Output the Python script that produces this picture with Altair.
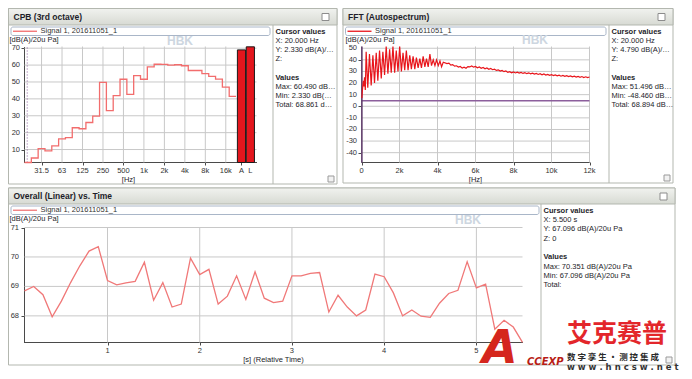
import altair as alt
import pandas as pd

FONT = "Liberation Sans"
CJK = "Noto Sans CJK SC"
TXT = "#1d1d29"
AXC = "#4a4a4a"
GRID = "#c8c8c8"
FRAME = "#b3b7af"
PURPLE = "#8c5f9c"

# ---------------- data ----------------
cpb_bands = ["20", "25", "31.5", "40", "50", "63", "80", "100", "125", "160",
             "200", "250", "315", "400", "500", "630", "800", "1k", "1.25k", "1.6k",
             "2k", "2.5k", "3.15k", "4k", "5k", "6.3k", "8k", "10k", "12.5k", "16k", "20k"]
cpb_levels = [2.33, 5.0, 10.6, 9.2, 12.2, 16.3, 17.1, 22.9, 22.3, 26.0,
              29.8, 49.8, 33.0, 41.9, 51.6, 42.7, 53.8, 51.6, 58.9, 60.49,
              60.4, 60.0, 60.2, 59.6, 56.8, 56.8, 54.9, 53.3, 51.7, 47.0, 41.5]
cpb_tick_bands = ["31.5", "63", "125", "250", "500", "1k", "2k", "4k", "8k", "16k"]
cpb_total_names = ["A", "L"]
cpb_total_levels = [69.0, 70.8]
cpb_yticks = [10, 20, 30, 40, 50, 60, 70]

fft_freq = [20, 40, 70, 100, 130, 160, 200,
            245, 330, 420, 510, 600, 685, 775, 860, 950, 1040, 1125, 1215, 1300, 1390,
            1480, 1565, 1655, 1745, 1830, 1920, 2010, 2100, 2185, 2275, 2360, 2450,
            2540, 2625, 2715, 2805, 2890, 2980, 3070, 3155, 3245, 3335, 3420, 3510,
            3600, 3685, 3775, 3865, 3950, 4040, 4130, 4215, 4305,
            4500, 4600, 4700, 4800, 4900, 5000, 5100, 5200, 5300, 5400, 5500, 5600,
            5700, 5800, 5900, 6000, 6100, 6200, 6300, 6400, 6500, 6600, 6700, 6800,
            6900, 7000, 7100, 7200, 7300, 7400, 7500, 7600, 7700, 7800, 7900, 8000,
            8100, 8200, 8300, 8400, 8500, 8600, 8700, 8800, 8900, 9000, 9100, 9200,
            9300, 9400, 9500, 9600, 9700, 9800, 9900, 10000, 10100, 10200, 10300,
            10400, 10500, 10600, 10700, 10800, 10900, 11000, 11100, 11200, 11300,
            11400, 11500, 11600, 11700, 11800, 11900, 12000]
fft_level = [7, 12, 18, 22, 17, 25, 14,
             47, 16, 45, 18, 44, 20, 46, 22, 48, 24, 47, 27, 51.4, 28,
             49, 29, 51.4, 29, 48, 30, 51.4, 30, 46, 31, 48, 31,
             44, 32, 43, 32, 42, 33, 41, 33, 43, 34, 41, 34,
             45, 35, 40, 35, 40, 35, 39, 34, 38,
             36.8, 37.2, 35.4, 35.9, 34.6, 34.9, 33.8, 34.3, 32.9, 33.6, 32.8, 34.2,
             33.9, 34.8, 33.7, 34.3, 33.1, 33.8, 32.7, 33.4, 32.3, 33.0, 31.9, 32.6,
             31.5, 32.0, 30.9, 31.4, 30.3, 30.9, 29.8, 30.4, 29.2, 29.8, 28.8, 29.5,
             28.7, 29.4, 28.6, 29.2, 28.3, 29.0, 28.1, 28.8, 27.9, 28.5, 27.7, 28.3,
             27.4, 28.0, 27.1, 27.8, 26.9, 27.5, 26.7, 27.3, 26.4, 27.0, 26.2,
             26.8, 25.9, 26.6, 25.8, 26.4, 25.6, 26.2, 25.4, 26.0, 25.2,
             25.8, 25.0, 25.6, 24.8, 25.4, 24.7, 25.2]
fft_xticks = [0, 2000, 4000, 6000, 8000, 10000, 12000]
fft_xlabels = ["0", "2k", "4k", "6k", "8k", "10k", "12k"]
fft_yticks = [-40, -30, -20, -10, 0, 10, 20, 30, 40, 50]

ovr_time = [0.1, 0.2, 0.3, 0.4, 0.5, 0.6, 0.7, 0.8, 0.9, 1.0,
            1.1, 1.2, 1.3, 1.4, 1.5, 1.6, 1.7, 1.8, 1.9, 2.0,
            2.1, 2.2, 2.3, 2.4, 2.5, 2.6, 2.7, 2.8, 2.9, 3.0,
            3.1, 3.2, 3.3, 3.4, 3.5, 3.6, 3.7, 3.8, 3.9, 4.0,
            4.1, 4.2, 4.3, 4.4, 4.5, 4.6, 4.7, 4.8, 4.9, 5.0,
            5.1, 5.2, 5.3, 5.4, 5.5]
ovr_level = [68.85, 69.0, 68.72, 67.97, 68.5, 69.13, 69.7, 70.2, 70.35, 69.2,
             69.05, 69.12, 69.17, 69.82, 68.53, 69.13, 68.3, 68.4, 69.96, 69.4,
             69.58, 68.4, 68.67, 69.36, 68.56, 69.5, 68.6, 68.45, 68.5, 69.36,
             69.36, 69.44, 69.47, 68.13, 68.7, 68.3, 68.0, 68.2, 69.42, 69.33,
             68.78, 68.0, 68.2, 67.99, 67.95, 68.43, 68.76, 68.87, 69.84, 68.95,
             69.08, 67.55, 67.85, 67.62, 67.1]
ovr_xticks = [1, 2, 3, 4, 5]
ovr_yticks = [68, 69, 70, 71]

cpb_cursor = ["Cursor values", "X: 20.000 Hz", "Y: 2.330 dB(A)/20u Pa", "Z:", "Values",
              "Max: 60.490 dB(A)/20u Pa", "Min: 2.330 dB(A)/20u Pa", "Total: 68.861 dB(A)/20u Pa"]
fft_cursor = ["Cursor values", "X: 20.000 Hz", "Y: 4.790 dB(A)/20u Pa", "Z:", "Values",
              "Max: 51.496 dB(A)/20u Pa", "Min: -48.460 dB(A)/20u Pa", "Total: 68.894 dB(A)/20u Pa"]
ovr_cursor = ["Cursor values", "X: 5.500 s", "Y: 67.096 dB(A)/20u Pa", "Z: 0", "Values",
              "Max: 70.351 dB(A)/20u Pa", "Min: 67.096 dB(A)/20u Pa", "Total:"]
legend_text = "Signal 1, 201611051_1"
unit = "[dB(A)/20u Pa]"

# ---------------- layout (pixels, relative to the CPB plot's top-left) ----------------
CPB_W, CPB_H = 232, 116
FX, FFT_W = 337, 228               # FFT plot starts 337 px right of the CPB plot
OY, OVR_W, OVR_H = 181, 498, 115   # overall plot starts 181 px below
H = 0.5                            # half-pixel shift for crisp 1px rules

# ---------------- helpers for the window chrome ----------------
blank = pd.DataFrame({"k": [0]})


def T(s, x, y, size=7.5, bold=False, color=TXT, align="left", font=FONT, baseline="middle", **kw):
    return alt.Chart(blank).mark_text(
        text=s, align=align, baseline=baseline, fontSize=size,
        fontWeight="bold" if bold else "normal", color=color, font=font, **kw
    ).encode(x=alt.value(x), y=alt.value(y))


def R(x, x2, y, y2, fill="transparent", stroke=FRAME, sw=1, cr=0):
    return alt.Chart(blank).mark_rect(
        fill=fill, stroke=stroke, strokeWidth=sw, cornerRadius=cr
    ).encode(x=alt.value(x), x2=alt.value(x2), y=alt.value(y), y2=alt.value(y2))


def L(x, x2, y, y2, color, sw=1):
    return alt.Chart(blank).mark_rule(color=color, strokeWidth=sw).encode(
        x=alt.value(x), x2=alt.value(x2), y=alt.value(y), y2=alt.value(y2))


GRAD = alt.LinearGradient(
    gradient="linear",
    stops=[alt.GradientStop(color="#f1f2ef", offset=0), alt.GradientStop(color="#d7dad3", offset=1)],
    x1=0, x2=0, y1=0, y2=1)


def chrome(fx0, fx1, fy0, fy1, tb1, title, legx1, divx, cur_rows, cur_ys, limit, line_color, hbk):
    layers = [
        R(fx0, fx1, fy0, fy1),
        R(fx0, fx1, fy0, tb1, fill=GRAD),
        T(title, fx0 + 5, (fy0 + tb1) / 2, size=8.5, bold=True),
        R(fx1 - 15, fx1 - 8, fy0 + 5, fy0 + 12, fill="white", stroke="#8c8c8c"),
        R(fx0 + 2.5, legx1, tb1 + 2, tb1 + 10.5, fill="white", stroke="#a9b6c8", cr=2),
        L(fx0 + 4.5, fx0 + 28.5, tb1 + 6.25, tb1 + 6.25, line_color, 1.3),
        T(legend_text, fx0 + 32, tb1 + 6.25, color="#333"),
        L(divx, divx, tb1, fy1, FRAME),
        T("HBK", hbk[0], hbk[1], size=12, bold=True, color="#cdd6e0"),
        R(fx1 - 9, fx1 - 3, fy1 - 8, fy1 - 2, fill="#f2f2f2", stroke="#9a9a9a"),
    ]
    for i, (s, yy) in enumerate(zip(cur_rows, cur_ys)):
        layers.append(T(s, divx + 2.5, yy, bold=(i in (0, 4)), limit=limit, ellipsis=""))
    return layers


COMMON = dict(grid=False, labels=False, tickSize=3, tickColor=AXC, domainColor=AXC,
              titleFont=FONT, titleFontSize=7.5, titleFontWeight="normal", titleColor=TXT)


def yaxis(values, tx, ty, offset=0):
    return alt.Axis(orient="left", values=values, offset=offset, title=unit,
                    titleAngle=0, titleAlign="left", titleBaseline="middle", titleX=tx, titleY=ty,
                    **COMMON)


def xaxis(values, title, tx, ty=17, offset=0):
    return alt.Axis(orient="bottom", values=values, offset=offset, title=title,
                    titleAlign="center", titleBaseline="middle", titleX=tx, titleY=ty, **COMMON)


def tick_text(df, x=None, y=None, align="center"):
    enc = {"text": "lab:N"}
    if x is not None:
        enc["x"] = x
    if y is not None:
        enc["y"] = y
    return alt.Chart(df).mark_text(font=FONT, fontSize=7.5, color="#333", align=align,
                                   baseline="middle").encode(**enc)


# ---------------- CPB (3rd octave) ----------------
n = len(cpb_bands)
cpb_df = pd.DataFrame({"pos": list(range(n)) + [n], "level": cpb_levels + [cpb_levels[-1]]})
bars_df = pd.DataFrame({
    "name": cpb_total_names,
    "level": cpb_total_levels,
    "pos": [n + 0.2 + 1.3 * i for i in range(len(cpb_total_names))],
    "pos_end": [n + 1.4 + 1.3 * i for i in range(len(cpb_total_names))],
})
tick_pos = [cpb_bands.index(b) + 0.5 for b in cpb_tick_bands] + \
           [(a + b) / 2 for a, b in zip(bars_df["pos"], bars_df["pos_end"])]
tick_pos = [round(p, 2) for p in tick_pos]
tick_lab = cpb_tick_bands + cpb_total_names
CPB_X = [0, 34]
CPB_Y = [2.33, 71]

x_cpb = alt.X("pos:Q", scale=alt.Scale(domain=CPB_X, range=[H, CPB_W + H], nice=False, zero=False),
              axis=xaxis(tick_pos, "[Hz]", 104))
y_cpb = alt.Y("level:Q", scale=alt.Scale(domain=CPB_Y, range=[CPB_H + H, H], nice=False, zero=False),
              axis=yaxis(cpb_yticks, -15, -7))

cpb = alt.layer(
    alt.Chart(pd.DataFrame({"pos": tick_pos[:len(cpb_tick_bands)]})).mark_rule(color=GRID).encode(
        x=x_cpb, y=alt.datum(CPB_Y[0]), y2=alt.datum(CPB_Y[1])),
    alt.Chart(pd.DataFrame({"level": cpb_yticks})).mark_rule(color=GRID).encode(
        y=y_cpb, x=alt.datum(CPB_X[0]), x2=alt.datum(CPB_X[1])),
    alt.Chart(pd.DataFrame({"pos": [0.4]})).mark_rule(color=PURPLE, strokeDash=[1, 2]).encode(
        x=x_cpb, y=alt.datum(CPB_Y[0]), y2=alt.datum(CPB_Y[1])),
    alt.Chart(cpb_df).mark_line(interpolate="step-after", color="#f26d6d", strokeWidth=1.3).encode(
        x=x_cpb, y=y_cpb),
    alt.Chart(bars_df).mark_rect(fill="#e3161d", stroke="#1a1a1a", strokeWidth=1).encode(
        x=x_cpb, x2="pos_end:Q", y=y_cpb, y2=alt.datum(CPB_Y[0])),
    tick_text(pd.DataFrame({"pos": tick_pos, "lab": tick_lab}), x=x_cpb, y=alt.value(CPB_H + 8.5)),
    tick_text(pd.DataFrame({"level": cpb_yticks, "lab": [str(v) for v in cpb_yticks]}),
              x=alt.value(-4), y=y_cpb, align="right"),
)

# ---------------- FFT (Autospectrum) ----------------
fft_df = pd.DataFrame({"freq": fft_freq, "level": fft_level})
FFT_X = [0, 12000]
FFT_Y = [-48.46, 51.5]
x_fft = alt.X("freq:Q", scale=alt.Scale(domain=FFT_X, range=[FX + H, FX + FFT_W + H], nice=False, zero=False),
              axis=xaxis(fft_xticks, "[Hz]", FX + FFT_W / 2))
y_fft = alt.Y("level:Q", scale=alt.Scale(domain=FFT_Y, range=[CPB_H + H, H], nice=False, zero=False),
              axis=yaxis(fft_yticks, -16, -7, offset=-FX))

fft = alt.layer(
    alt.Chart(pd.DataFrame({"freq": fft_xticks})).mark_rule(color=GRID).encode(
        x=x_fft, y=alt.datum(FFT_Y[0]), y2=alt.datum(FFT_Y[1])),
    alt.Chart(pd.DataFrame({"level": fft_yticks})).mark_rule(color=GRID).encode(
        y=y_fft, x=alt.datum(FFT_X[0]), x2=alt.datum(FFT_X[1])),
    alt.Chart(pd.DataFrame({"level": [4.79]})).mark_rule(color=PURPLE, strokeWidth=1.5).encode(
        y=y_fft, x=alt.datum(FFT_X[0]), x2=alt.datum(FFT_X[1])),
    alt.Chart(pd.DataFrame({"freq": [20]})).mark_rule(color="#5a3566", strokeWidth=1.5).encode(
        x=x_fft, y=alt.datum(FFT_Y[0]), y2=alt.datum(FFT_Y[1])),
    alt.Chart(fft_df).mark_line(color="#e8151b", strokeWidth=1.2).encode(x=x_fft, y=y_fft),
    tick_text(pd.DataFrame({"freq": fft_xticks, "lab": fft_xlabels}), x=x_fft, y=alt.value(CPB_H + 8.5)),
    tick_text(pd.DataFrame({"level": fft_yticks, "lab": [str(v) for v in fft_yticks]}),
              x=alt.value(FX - 4), y=y_fft, align="right"),
)

# ---------------- Overall (Linear) vs. Time ----------------
ovr_df = pd.DataFrame({"time": ovr_time, "level": ovr_level})
OVR_X = [0.1, 5.5]
OVR_Y = [67.096, 71]
x_ovr = alt.X("time:Q", scale=alt.Scale(domain=OVR_X, range=[H, OVR_W + H], nice=False, zero=False),
              axis=xaxis(ovr_xticks, "[s] (Relative Time)", OVR_W / 2, offset=OY + OVR_H - CPB_H))
y_ovr = alt.Y("level:Q", scale=alt.Scale(domain=OVR_Y, range=[OY + OVR_H + H, OY + H], nice=False, zero=False),
              axis=yaxis(ovr_yticks, -15, OY - 9))

ovr = alt.layer(
    alt.Chart(pd.DataFrame({"time": ovr_xticks})).mark_rule(color=GRID).encode(
        x=x_ovr, y=alt.datum(OVR_Y[0]), y2=alt.datum(OVR_Y[1])),
    alt.Chart(pd.DataFrame({"level": ovr_yticks})).mark_rule(color=GRID).encode(
        y=y_ovr, x=alt.datum(OVR_X[0]), x2=alt.datum(OVR_X[1])),
    alt.Chart(ovr_df).mark_line(color="#f07878", strokeWidth=1.3).encode(x=x_ovr, y=y_ovr),
    tick_text(pd.DataFrame({"time": ovr_xticks, "lab": [str(v) for v in ovr_xticks]}),
              x=x_ovr, y=alt.value(OY + OVR_H + 8.5)),
    tick_text(pd.DataFrame({"level": ovr_yticks, "lab": [str(v) for v in ovr_yticks]}),
              x=alt.value(-5), y=y_ovr, align="right"),
)

# ---------------- window chrome ----------------
chrome_layers = []
chrome_layers += chrome(-15.5, 313, -37.5, 138, -21, "CPB (3rd octave)", 246, 249,
                        cpb_cursor, [-14.5, -5, 4, 13, 32, 41, 50, 59], 61, "#f26d6d", (143, -5))
chrome_layers += chrome(FX - 18, FX + 312, -37.5, 137, -21, "FFT (Autospectrum)", FX + 245, FX + 248,
                        fft_cursor, [-14.5, -5.5, 3.5, 13, 32, 41, 50, 59], 62, "#e8151b", (FX + 161, -6))
chrome_layers += chrome(-15.5, 651, OY - 39, OY + 138, OY - 23, "Overall (Linear) vs. Time", 515, 517,
                        ovr_cursor, [OY + v for v in [-16, -7, 2, 11.5, 30, 39.5, 48.5, 57.5]], 140,
                        "#f07878", (431, OY - 7))

watermark = [
    T("A", 458, OY + 136, size=46, bold=True, color="#d5261d", font="DejaVu Sans", fontStyle="italic",
      baseline="alphabetic"),
    T("CCEXP", 503, OY + 135, size=10, bold=True, color="#b81d16", font="DejaVu Sans", fontStyle="italic"),
    T("艾克赛普", 543, OY + 107, size=25, bold=True, color="#e3262b", font=CJK),
    T("数 字 孪 生 · 测 控 集 成", 543, OY + 129.5, size=8.5, bold=True, color="#2b2b2b", font=CJK),
    T("w w w . h n c s w . n e t", 543, OY + 139.5, size=8.5, bold=True, color="#333", font="DejaVu Sans"),
]

chart = alt.layer(
    alt.layer(*chrome_layers), cpb, fft, ovr, alt.layer(*watermark)
).resolve_scale(x="independent", y="independent").resolve_axis(
    x="independent", y="independent"
).properties(width=CPB_W, height=CPB_H, padding=0).configure_view(stroke=None)

chart.save("out.html", embed_options={"renderer": "svg", "actions": False})
